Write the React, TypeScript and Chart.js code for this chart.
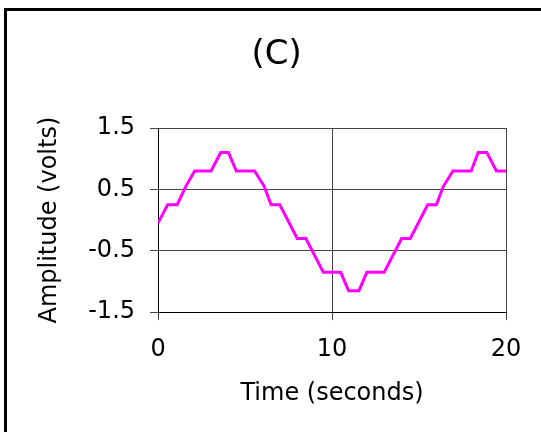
import React, { useEffect, useRef } from "react";
import { Chart, registerables } from "chart.js";

Chart.register(...registerables);

const chartTitle = "(C)";
const xAxisTitle = "Time (seconds)";
const yAxisTitle = "Amplitude (volts)";

const times = [
  0, 0.55, 1.1, 1.6, 2.1, 3.05, 3.6, 4.05, 4.5, 5.55, 6.1, 6.5, 7.0, 8.0, 8.5, 9.5,
  10.5, 10.95, 11.55, 12.0, 13.0, 14.0, 14.5, 15.5, 16.0, 16.4, 16.95, 18.0, 18.4,
  18.9, 19.45, 20.0,
];
const amplitudes = [
  -0.05, 0.25, 0.25, 0.55, 0.8, 0.8, 1.1, 1.1, 0.8, 0.8, 0.55, 0.25, 0.25, -0.3, -0.3,
  -0.85, -0.85, -1.15, -1.15, -0.85, -0.85, -0.3, -0.3, 0.25, 0.25, 0.55, 0.8, 0.8,
  1.1, 1.1, 0.8, 0.8,
];

const xMin = 0;
const xMax = 20;
const xStep = 10;
const yMin = -1.5;
const yMax = 1.5;
const yStep = 1;

export default function App() {
  const canvasRef = useRef<HTMLCanvasElement | null>(null);

  useEffect(() => {
    const canvas = canvasRef.current;
    if (!canvas) return;
    const font = "'DejaVu Sans', sans-serif";
    const chart = new Chart(canvas, {
      type: "line",
      data: {
        datasets: [
          {
            data: times.map((t, i) => ({ x: t, y: amplitudes[i] })),
            borderColor: "#ff00ff",
            backgroundColor: "#ff00ff",
            borderWidth: 3,
            pointRadius: 0,
            tension: 0,
            fill: false,
          },
        ],
      },
      options: {
        responsive: false,
        animation: false,
        events: [],
        layout: { padding: { left: 47.4, right: 35, top: 24.4, bottom: 20.2 } },
        plugins: {
          legend: { display: false },
          tooltip: { enabled: false },
          title: {
            display: true,
            text: chartTitle,
            color: "#000",
            font: { family: font, size: 34, weight: "normal" },
            padding: { top: 10, bottom: 52.8 },
          },
        },
        scales: {
          x: {
            type: "linear",
            min: xMin,
            max: xMax,
            ticks: {
              stepSize: xStep,
              color: "#000",
              padding: 15,
              maxRotation: 0,
              font: { family: font, size: 24 },
            },
            grid: { color: "#444", lineWidth: 1, tickLength: 8, drawTicks: true },
            border: { display: true, color: "#000", width: 1 },
            title: {
              display: true,
              text: xAxisTitle,
              color: "#000",
              font: { family: font, size: 24 },
              padding: { top: 0, bottom: 4 },
            },
          },
          y: {
            type: "linear",
            min: yMin,
            max: yMax,
            ticks: {
              stepSize: yStep,
              color: "#000",
              padding: 15,
              font: { family: font, size: 24 },
            },
            grid: { color: "#444", lineWidth: 1, tickLength: 8, drawTicks: true },
            border: { display: true, color: "#000", width: 1 },
            title: {
              display: true,
              text: yAxisTitle,
              color: "#000",
              font: { family: font, size: 24 },
              padding: { top: -12.1, bottom: 9.1 },
            },
          },
        },
      },
    });
    return () => chart.destroy();
  }, []);

  return (
    <div
      style={{
        position: "fixed",
        left: 0,
        top: 0,
        width: 541,
        height: 432,
        overflow: "hidden",
        background: "#fff",
      }}
    >
      <div
        style={{
          position: "absolute",
          left: 4,
          top: 8,
          width: 700,
          height: 600,
          border: "3px solid #000",
          boxSizing: "border-box",
        }}
      />
      <canvas
        ref={canvasRef}
        width={541}
        height={432}
        style={{ position: "absolute", left: 0, top: 0, width: 541, height: 432 }}
      />
    </div>
  );
}
